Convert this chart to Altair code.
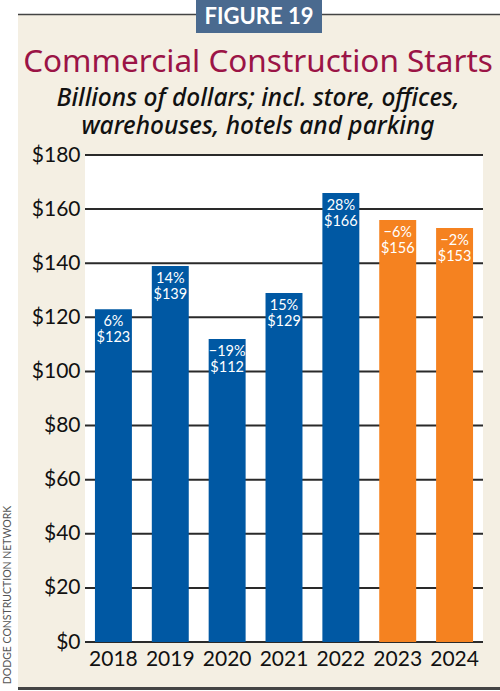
import altair as alt
import pandas as pd

# Commercial construction starts, billions of dollars
years = ["2018", "2019", "2020", "2021", "2022", "2023", "2024"]
values = [123, 139, 112, 129, 166, 156, 153]
changes = ["6%", "14%", "\u221219%", "15%", "28%", "\u22126%", "\u22122%"]
kinds = ["actual", "actual", "actual", "actual", "actual", "forecast", "forecast"]
y_ticks = [0, 20, 40, 60, 80, 100, 120, 140, 160, 180]

badge_text = "FIGURE 19"
title_text = "Commercial Construction Starts"
subtitle_lines = ["Billions of dollars; incl. store, offices,",
                  "warehouses, hotels and parking"]
source_text = "DODGE CONSTRUCTION NETWORK"

BEIGE = "#f4efe3"
BLUE = "#0058a3"
ORANGE = "#f58220"
FONT = "Lato"

df = pd.DataFrame({
    "year": years,
    "value": values,
    "change": changes,
    "kind": kinds,
    "amount": [f"${v}" for v in values],
})
grid_df = pd.DataFrame({"value": y_ticks})

W, H = 398, 487          # plot area
PL, PT = 85, 155         # left / top padding


def one(text=""):
    return alt.Data(values=[{"t": text}])


# white page margins around the beige panel
left_strip = alt.Chart(one()).mark_rect(color="white").encode(
    x=alt.value(-PL), x2=alt.value(-PL + 18),
    y=alt.value(-PT), y2=alt.value(691 - PT))
top_strip = alt.Chart(one()).mark_rect(color="white").encode(
    x=alt.value(-PL), x2=alt.value(500 - PL),
    y=alt.value(-PT), y2=alt.value(-PT + 14))
bottom_strip = alt.Chart(one()).mark_rect(color="white").encode(
    x=alt.value(-PL), x2=alt.value(500 - PL),
    y=alt.value(688 - PT), y2=alt.value(691 - PT))
top_rule = alt.Chart(one()).mark_rule(color="#444444", strokeWidth=1.5).encode(
    x=alt.value(-PL + 18), x2=alt.value(500 - PL),
    y=alt.value(-PT + 14.5))
bottom_rule = alt.Chart(one()).mark_rule(color="#444444", strokeWidth=3).encode(
    x=alt.value(-PL + 18), x2=alt.value(500 - PL),
    y=alt.value(688.5 - PT))

badge = alt.Chart(one()).mark_rect(color="#4a6a8f").encode(
    x=alt.value(196 - PL), x2=alt.value(322 - PL),
    y=alt.value(-PT), y2=alt.value(33 - PT))
badge_label = alt.Chart(one(badge_text)).mark_text(
    color="white", font=FONT, fontSize=22, fontWeight="bold",
    align="center", baseline="middle").encode(
    text="t:N", x=alt.value(259 - PL), y=alt.value(17 - PT))

title = alt.Chart(one(title_text)).mark_text(
    color="#9b1446", font="Noto Sans", fontSize=31.5,
    align="center", baseline="alphabetic").encode(
    text="t:N", x=alt.value(258 - PL), y=alt.value(72 - PT))

sub1 = alt.Chart(one(subtitle_lines[0])).mark_text(
    color="#111111", font="Noto Sans", fontSize=24.5, fontStyle="italic",
    fontWeight=500, align="center", baseline="alphabetic").encode(
    text="t:N", x=alt.value(258 - PL), y=alt.value(106 - PT))
sub2 = alt.Chart(one(subtitle_lines[1])).mark_text(
    color="#111111", font="Noto Sans", fontSize=24.5, fontStyle="italic",
    fontWeight=500, align="center", baseline="alphabetic").encode(
    text="t:N", x=alt.value(258 - PL), y=alt.value(134 - PT))

source = alt.Chart(one(source_text)).mark_text(
    color="#555555", font=FONT, fontSize=10.5, angle=270,
    align="center", baseline="middle").encode(
    text="t:N", x=alt.value(8 - PL), y=alt.value(595 - PT))

x_enc = alt.X("year:N", sort=years,
              scale=alt.Scale(paddingInner=0.35, paddingOuter=0.175),
              axis=alt.Axis(title=None, ticks=False, domain=False,
                            labelAngle=0, labelFontSize=21, labelFont=FONT,
                            labelColor="#111111", labelPadding=6))
y_scale = alt.Scale(domain=[0, 180])
y_enc = alt.Y("value:Q", scale=y_scale,
              axis=alt.Axis(title=None, values=y_ticks, ticks=False,
                            domain=False, grid=False, labelFontSize=21,
                            labelFont=FONT, labelColor="#111111",
                            labelPadding=5, labelExpr="'$' + datum.value"))

# horizontal gridlines, kept behind the bars
grid = alt.Chart(grid_df).mark_rule(color="#2a2a2a", strokeWidth=2).encode(
    y=alt.Y("value:Q", scale=y_scale), x=alt.value(0), x2=alt.value(W))

bars = alt.Chart(df).mark_bar().encode(
    x=x_enc, y=y_enc,
    color=alt.Color("kind:N", scale=alt.Scale(domain=["actual", "forecast"],
                                              range=[BLUE, ORANGE]),
                    legend=None))

pct = alt.Chart(df).mark_text(
    color="white", font=FONT, fontSize=14.5, dy=13, baseline="middle").encode(
    x=alt.X("year:N", sort=years), y="value:Q", text="change:N")
amt = alt.Chart(df).mark_text(
    color="white", font=FONT, fontSize=14.5, dy=29, baseline="middle").encode(
    x=alt.X("year:N", sort=years), y="value:Q", text="amount:N")

chart = alt.layer(
    left_strip, top_strip, bottom_strip, top_rule, bottom_rule,
    badge, badge_label, title, sub1, sub2, source,
    grid, bars, pct, amt,
).properties(
    width=W, height=H,
    autosize="none",
    padding={"left": PL, "top": PT, "right": 500 - PL - W, "bottom": 691 - PT - H},
    background=BEIGE,
).configure_view(fill="white", stroke=None)

chart.save("out.html", embed_options={"renderer": "svg", "actions": False})
